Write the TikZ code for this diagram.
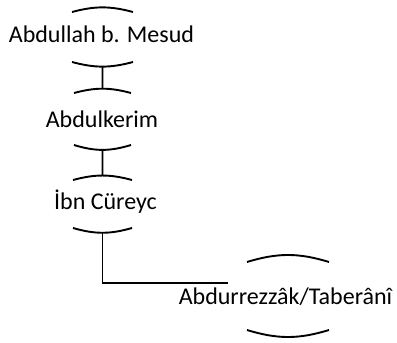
\documentclass[tikz,border=0pt]{standalone}
\usepackage{fontspec}
\setmainfont{Carlito}

\begin{document}
\begin{tikzpicture}[x=1pt, y=-1pt]
            \tikzstyle{narrator}=[anchor=base, inner sep=0pt, font=\fontsize{24}{29}\selectfont]
            \tikzstyle{link}=[line width=1.9pt]
            \useasboundingbox (0,0) rectangle (397,343);

            \node[narrator] (N_1) at (101.5,42)  {Abdullah b. Mesud};
            \node[narrator] (N_2) at (102,127)   {Abdulkerim};
            \node[narrator] (N_3) at (105.5,209) {İbn Cüreyc};
            \node[narrator] (N_4) at (285.5,304) {Abdurrezzâk/Taberânî};

            % arcs round the names
            \draw[link] (72,12)   to[bend left=15]  (133,12);
            \draw[link] (72,62)   to[bend right=15] coordinate[pos=0.5] (A_1) (133,62);
            \draw[link] (74,93)   to[bend left=15]  coordinate[pos=0.5] (B_2) (131,93);
            \draw[link] (74,145)  to[bend right=17] coordinate[pos=0.5] (A_2) (131,145);
            \draw[link] (73,180)  to[bend left=15]  coordinate[pos=0.5] (B_3) (132,180);
            \draw[link] (73,228)  to[bend right=16] coordinate[pos=0.5] (A_3) (132,228);
            \draw[link] (247,262) to[bend left=17]  (329,262);
            \draw[link] (247,330) to[bend right=17] (329,330);

            \coordinate (E_3) at (228,283);
            \draw[link] (A_1) -- (B_2);
            \draw[link] (A_2) -- (B_3);
            \draw[link] (A_3) |- (E_3);
        \end{tikzpicture}
\end{document}
